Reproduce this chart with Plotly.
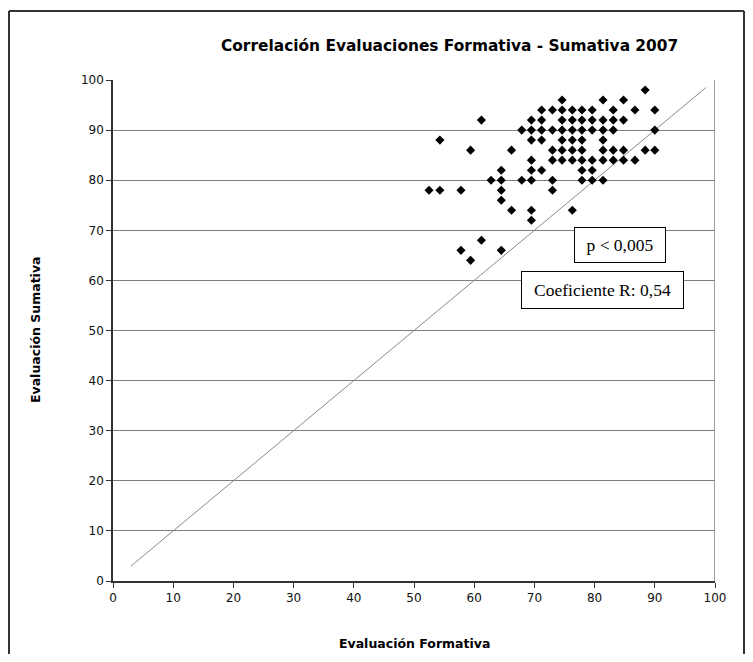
import plotly.graph_objects as go

# ---------------- data ----------------
title_text = "Correlación Evaluaciones Formativa - Sumativa 2007"
x_title = "Evaluación Formativa"
y_title = "Evaluación Sumativa"
tick_values = [0, 10, 20, 30, 40, 50, 60, 70, 80, 90, 100]
tick_labels = [str(v) for v in tick_values]

formativa = [
    88.4,
    74.6, 81.4, 84.8,
    71.2, 73.0, 74.6, 76.3, 77.9, 79.6, 83.1, 86.7, 90.0,
    61.2, 69.5, 71.2, 74.6, 76.3, 77.9, 79.6, 81.4, 83.1, 84.8,
    67.9, 69.5, 71.2, 73.0, 74.6, 76.3, 77.9, 79.6, 81.4, 83.1, 90.0,
    54.3, 69.5, 71.2, 74.6, 76.3, 77.9, 81.4,
    59.4, 66.2, 73.0, 74.6, 76.3, 77.9, 81.4, 83.1, 84.8, 88.4, 90.0,
    69.5, 73.0, 74.6, 76.3, 77.9, 79.6, 81.4, 83.1, 84.8, 86.7,
    64.5, 69.5, 71.2, 77.9, 79.6,
    62.8, 64.5, 67.9, 69.5, 73.0, 77.9, 79.6, 81.4,
    52.5, 54.3, 57.8, 64.5, 73.0,
    64.5,
    66.2, 69.5, 76.3,
    69.5,
    61.2,
    57.8, 64.5,
    59.4,
]
sumativa = (
    [98] * 1 + [96] * 3 + [94] * 9 + [92] * 10 + [90] * 11 + [88] * 7
    + [86] * 11 + [84] * 10 + [82] * 5 + [80] * 8 + [78] * 5 + [76] * 1
    + [74] * 3 + [72] * 1 + [68] * 1 + [66] * 2 + [64] * 1
)

line_x = [3.0, 98.5]
line_y = [3.0, 98.5]

stats_labels = ["p < 0,005", "Coeficiente R: 0,54"]

# ---------------- layout helpers (pixels) ----------------
# The page body adds an 8px margin, so the figure is 16px smaller
# and all reference pixel positions are shifted by -8.
OFF = 8
W, H = 753 - 2 * OFF, 662 - 2 * OFF
PL, PR, PT, PB = 113 - OFF, 715 - OFF, 80 - OFF, 581 - OFF


def px_x(p):
    return (p - OFF - PL) / (PR - PL)


def px_y(p):
    return (PB - (p - OFF)) / (PB - PT)


fig = go.Figure()

fig.add_trace(go.Scatter(
    x=line_x, y=line_y, mode="lines",
    line=dict(color="#8a8a8a", width=1), hoverinfo="skip",
))

fig.add_trace(go.Scatter(
    x=formativa, y=sumativa, mode="markers",
    marker=dict(symbol="diamond", size=7, color="black",
                line=dict(width=0)),
))

axis_font = dict(family="DejaVu Sans, Verdana, sans-serif", size=12, color="#111111")

fig.update_xaxes(
    range=[0, 100], tickvals=tick_values, ticktext=tick_labels,
    showgrid=False, zeroline=False,
    showline=True, linecolor="#333333", linewidth=1.5,
    ticks="outside", ticklen=5, tickcolor="#333333", tickwidth=1,
    tickfont=axis_font,
)
fig.update_yaxes(
    range=[0, 100], tickvals=tick_values, ticktext=tick_labels,
    showgrid=True, gridcolor="#7f7f7f", gridwidth=1,
    zeroline=False,
    showline=True, linecolor="#333333", linewidth=1.5,
    ticks="outside", ticklen=5, tickcolor="#333333", tickwidth=1,
    tickfont=axis_font,
)

frame = dict(color="#333333", width=2)
shapes = [
    # right border of plot area
    dict(type="line", xref="x", yref="y", x0=100, x1=100, y0=0, y1=100,
         line=dict(color="#7f7f7f", width=1.5)),
    # outer frame (left, top, right; bottom lies below the picture)
    dict(type="line", xref="paper", yref="paper",
         x0=px_x(9), x1=px_x(9), y0=px_y(670), y1=px_y(11), line=frame),
    dict(type="line", xref="paper", yref="paper",
         x0=px_x(9), x1=px_x(744), y0=px_y(11), y1=px_y(11), line=frame),
    dict(type="line", xref="paper", yref="paper",
         x0=px_x(744), x1=px_x(744), y0=px_y(670), y1=px_y(11), line=frame),
]

annotations = [
    dict(text="<b>" + title_text + "</b>", xref="paper", yref="paper",
         x=px_x(449), y=px_y(46), xanchor="center", yanchor="middle",
         showarrow=False,
         font=dict(family="DejaVu Sans, Verdana, sans-serif", size=15.4, color="black")),
    dict(text="<b>" + x_title + "</b>", xref="paper", yref="paper",
         x=px_x(414), y=px_y(643), xanchor="center", yanchor="middle",
         showarrow=False,
         font=dict(family="DejaVu Sans, Verdana, sans-serif", size=12.5, color="black")),
    dict(text="<b>" + y_title + "</b>", xref="paper", yref="paper",
         x=px_x(35), y=px_y(330), xanchor="center", yanchor="middle",
         textangle=-90, showarrow=False,
         font=dict(family="DejaVu Sans, Verdana, sans-serif", size=12.5, color="black")),
    dict(text=stats_labels[0], xref="x", yref="y", x=84.3, y=67.1,
         xanchor="center", yanchor="middle", showarrow=False,
         width=90, height=34, borderpad=0, borderwidth=1,
         bordercolor="black", bgcolor="white",
         font=dict(family="Liberation Serif, Times New Roman, serif", size=17.5, color="black")),
    dict(text=stats_labels[1], xref="x", yref="y", x=81.3, y=58.0,
         xanchor="center", yanchor="middle", showarrow=False,
         width=161, height=36, borderpad=0, borderwidth=1,
         bordercolor="black", bgcolor="white",
         font=dict(family="Liberation Serif, Times New Roman, serif", size=17.5, color="black")),
]

fig.update_layout(
    width=W, height=H, autosize=False,
    margin=dict(l=PL, r=W - PR, t=PT, b=H - PB, pad=0),
    paper_bgcolor="white", plot_bgcolor="white",
    showlegend=False,
    shapes=shapes, annotations=annotations,
)

fig.write_html("out.html")
